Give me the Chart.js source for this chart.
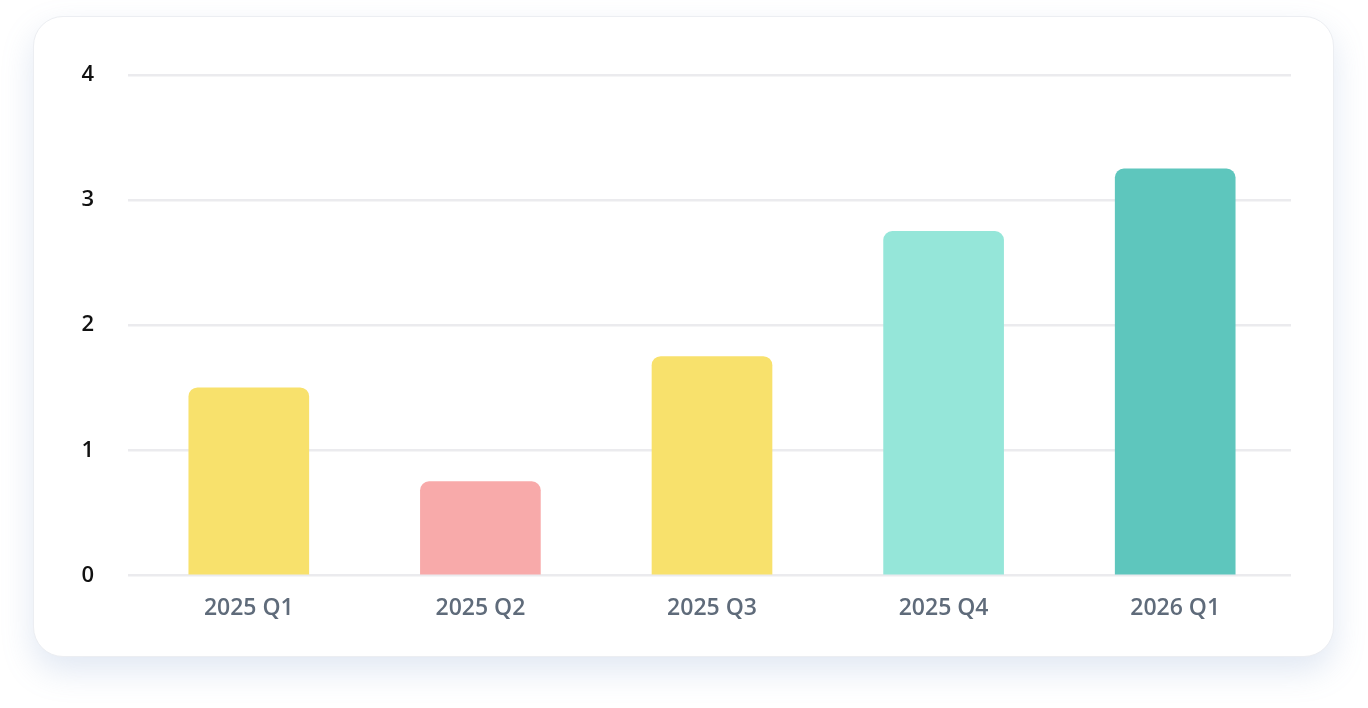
<!DOCTYPE html>
<html lang="en">
  <head>
    <meta charset="UTF-8" />
    <title>Quarterly Chart</title>
    <script src="https://cdn.jsdelivr.net/npm/chart.js"></script>
    <style>
      html,
      body {
        margin: 0;
        height: 100%;
        background: #ffffff;
      }
      .card {
        position: absolute;
        left: 33px;
        top: 16px;
        width: 1299px;
        height: 639px;
        background: #ffffff;
        border: 1px solid #eceef2;
        border-radius: 30px;
        box-shadow: 0 14px 32px rgba(120, 150, 200, 0.22);
        overflow: hidden;
      }
      .chart-box {
        position: absolute;
        inset: 0;
      }
    </style>
  </head>
  <body>
    <div class="card">
      <div class="chart-box">
        <canvas id="quarterChart"></canvas>
      </div>
    </div>

    <script>
      // Chart data
      const quarters = ["2025 Q1", "2025 Q2", "2025 Q3", "2025 Q4", "2026 Q1"];
      const values = [1.5, 0.75, 1.75, 2.75, 3.25];
      const barColors = ["#f8e16c", "#f8aaaa", "#95e6d9", "#5ec6bd"];
      const colorIndex = [0, 1, 0, 2, 3];
      const yTicks = [0, 1, 2, 3, 4];

      new Chart(document.getElementById("quarterChart"), {
        type: "bar",
        data: {
          labels: quarters,
          datasets: [
            {
              data: values,
              backgroundColor: colorIndex.map((i) => barColors[i]),
              borderRadius: { topLeft: 9, topRight: 9 },
              borderSkipped: "bottom",
              barThickness: 120,
            },
          ],
        },
        options: {
          responsive: true,
          maintainAspectRatio: false,
          animation: false,
          layout: { padding: { top: 58, right: 42, bottom: 23, left: 0 } },
          plugins: {
            legend: { display: false },
            tooltip: { enabled: false },
          },
          scales: {
            x: {
              grid: { display: false },
              border: { display: false },
              ticks: {
                color: "#5f6b7a",
                padding: 11,
                font: { family: "'Open Sans'", size: 23, weight: "600" },
              },
            },
            y: {
              min: 0,
              max: 4,
              afterBuildTicks: (scale) => {
                scale.ticks = yTicks.map((v) => ({ value: v }));
              },
              afterFit: (scale) => {
                scale.width = 99;
              },
              grid: {
                color: "#ebebee",
                lineWidth: 2.5,
                tickLength: 5,
                tickColor: "#ebebee",
              },
              border: { display: false },
              ticks: {
                color: "#111111",
                padding: 34,
                font: { family: "'Open Sans'", size: 22, weight: "600" },
              },
            },
          },
        },
      });
    </script>
  </body>
</html>
